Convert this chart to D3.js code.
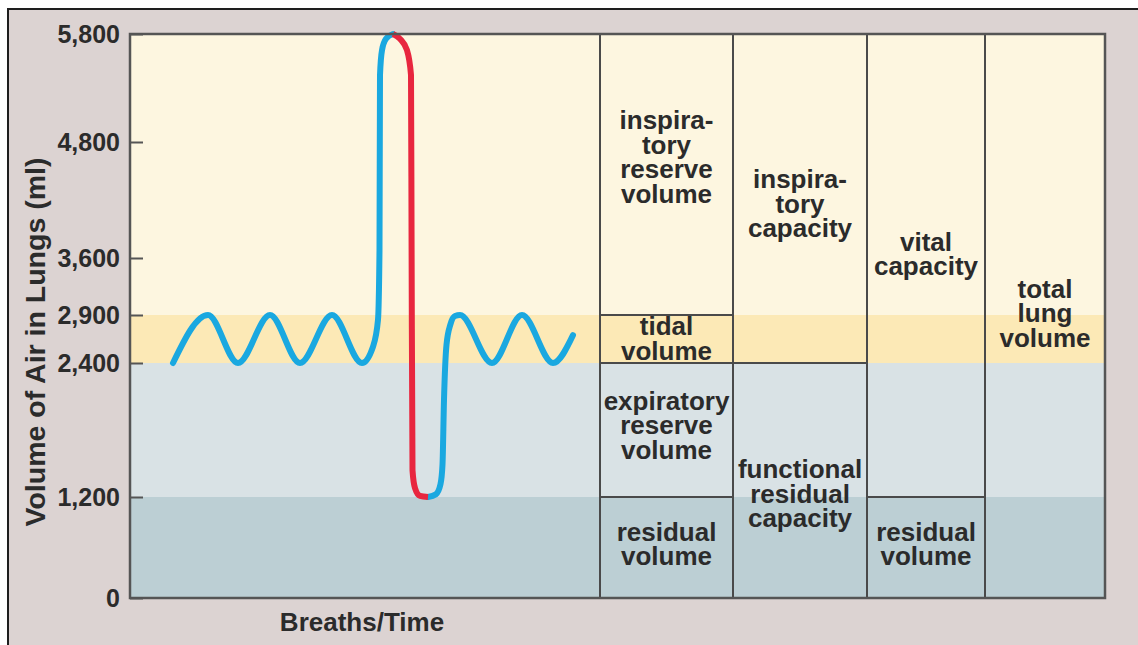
<!DOCTYPE html>
<html>
<head>
<meta charset="utf-8">
<script src="https://cdn.jsdelivr.net/npm/d3@7"></script>
<style>
  body { margin: 0; background: #fff; }
  svg text { font-family: "Liberation Sans", Arial, sans-serif; font-weight: bold; fill: #2b2b2b; }
</style>
</head>
<body>
<div id="chart"></div>
<script>
// Volume levels (ml) marked on the axis
const volumeTicks = [0, 1200, 2400, 2900, 3600, 4800, 5800];

// Horizontal bands behind the trace
const bandNames = ["residual", "expiratory", "tidal", "inspiratory"];
const bandLo = [0, 1200, 2400, 2900];
const bandHi = [1200, 2400, 2900, 5800];

// Spirometer trace [time, volume ml], split where the colour changes
const traceBefore = [
  [4.3, 2400], [7.8, 2900], [10.8, 2400], [14.0, 2900], [17.0, 2400],
  [20.2, 2900], [23.2, 2400], [24.3, 2570], [24.8, 2850], [24.95, 3680],
  [25.0, 5420], [25.2, 5650], [25.6, 5755], [26.3, 5800]
];
const traceForced = [
  [26.3, 5800], [27.0, 5755], [27.7, 5650], [28.1, 5420], [28.16, 3680],
  [28.25, 1440], [28.5, 1280], [29.0, 1210], [29.8, 1200]
];
const traceAfter = [
  [29.8, 1200], [30.6, 1225], [31.05, 1315], [31.25, 1490], [31.4, 2070],
  [31.65, 2590], [32.05, 2805], [32.5, 2890], [33.0, 2900], [36.2, 2400],
  [39.2, 2900], [42.3, 2400], [44.3, 2690]
];

// Table of volumes and capacities: column, low, high, label lines
const boxCol = [0, 0, 0, 0, 1, 1, 2, 2, 3];
const boxLo = [2900, 2400, 1200, 0, 2400, 0, 1200, 0, 0];
const boxHi = [5800, 2900, 2400, 1200, 5800, 2400, 5800, 1200, 5800];
const boxLabels = [
  ["inspira-", "tory", "reserve", "volume"],
  ["tidal", "volume"],
  ["expiratory", "reserve", "volume"],
  ["residual", "volume"],
  ["inspira-", "tory", "capacity"],
  ["functional", "residual", "capacity"],
  ["vital", "capacity"],
  ["residual", "volume"],
  ["total", "lung", "volume"]
];

// layout
const W = 1138, H = 645;
const plotL = 130, plotR = 1105, plotT = 34, plotB = 598;
const bandColor = { residual: "#bccfd4", expiratory: "#d9e2e5", tidal: "#fce9b6", inspiratory: "#fdf6e0" };
const labelShift = [-17, 0, -4, -3, 6, 14, -11, -3, -2];
const lineGap = 24.5;

const svg = d3.select("#chart").append("svg")
    .attr("width", W)
    .attr("height", H);

// schematic (non-uniform) volume axis, as in the drawing
const y = d3.scaleLinear()
    .domain(volumeTicks)
    .range([plotB, 497, 363, 315, 258, 142, plotT]);
const x = d3.scaleLinear().domain([0, 47]).range([plotL, 600]);
const col = d3.scaleLinear().domain([0, 1, 2, 3, 4]).range([600, 733, 867, 985, plotR]);

// outer panel
svg.append("rect")
    .attr("x", 8).attr("y", 9)
    .attr("width", W - 8).attr("height", H - 9)
    .attr("fill", "#dcd3d2");
svg.append("path")
    .attr("d", `M8,${H} V9 H${W}`)
    .attr("fill", "none")
    .attr("stroke", "#1e1e1e")
    .attr("stroke-width", 2);

// bands
svg.append("g")
  .selectAll("rect")
  .data(bandNames)
  .join("rect")
    .attr("x", plotL)
    .attr("width", plotR - plotL)
    .attr("y", (d, i) => y(bandHi[i]))
    .attr("height", (d, i) => y(bandLo[i]) - y(bandHi[i]))
    .attr("fill", d => bandColor[d]);

// table boxes
svg.append("g")
  .selectAll("rect")
  .data(boxLabels)
  .join("rect")
    .attr("x", (d, i) => col(boxCol[i]))
    .attr("width", (d, i) => col(boxCol[i] + 1) - col(boxCol[i]))
    .attr("y", (d, i) => y(boxHi[i]))
    .attr("height", (d, i) => y(boxLo[i]) - y(boxHi[i]))
    .attr("fill", "none")
    .attr("stroke", "#4a4a4a")
    .attr("stroke-width", 2);

// box labels
const labels = svg.append("g")
    .attr("text-anchor", "middle")
    .style("font-size", "26px");
boxLabels.forEach((lines, i) => {
  const cx = (col(boxCol[i]) + col(boxCol[i] + 1)) / 2;
  const cy = (y(boxLo[i]) + y(boxHi[i])) / 2 + labelShift[i];
  const t = labels.append("text")
      .attr("x", cx)
      .attr("y", cy - (lines.length - 1) * lineGap / 2);
  lines.forEach((s, j) => {
    t.append("tspan")
        .attr("x", cx)
        .attr("dy", j === 0 ? "0.32em" : lineGap)
        .text(s);
  });
});

// trace
const line = d3.line()
    .x(d => x(d[0]))
    .y(d => y(d[1]))
    .curve(d3.curveMonotoneX);
svg.append("path")
    .attr("d", line(traceBefore))
    .attr("fill", "none")
    .attr("stroke", "#1aa8e0")
    .attr("stroke-width", 6)
    .attr("stroke-linecap", "round");
svg.append("path")
    .attr("d", line(traceAfter))
    .attr("fill", "none")
    .attr("stroke", "#1aa8e0")
    .attr("stroke-width", 6)
    .attr("stroke-linecap", "round");
svg.append("path")
    .attr("d", line(traceForced))
    .attr("fill", "none")
    .attr("stroke", "#e8263f")
    .attr("stroke-width", 6);

// plot frame
svg.append("rect")
    .attr("x", plotL).attr("y", plotT)
    .attr("width", plotR - plotL).attr("height", plotB - plotT)
    .attr("fill", "none")
    .attr("stroke", "#555")
    .attr("stroke-width", 2.5);

// y axis with inward ticks
const yAxis = svg.append("g")
    .attr("transform", `translate(${plotL},0)`)
    .call(d3.axisLeft(y)
      .tickValues(volumeTicks)
      .tickSize(-13)
      .tickPadding(10)
      .tickFormat(d3.format(",")));
yAxis.select(".domain").remove();
yAxis.selectAll(".tick line")
    .attr("stroke", "#555")
    .attr("stroke-width", 2);
yAxis.selectAll(".tick text")
    .attr("fill", "#2b2b2b")
    .style("font-size", "25px")
    .style("font-family", "'Liberation Sans', Arial, sans-serif")
    .style("font-weight", "bold");

// axis titles
svg.append("text")
    .attr("transform", `translate(45,${(plotT + plotB) / 2 + 26}) rotate(-90)`)
    .attr("text-anchor", "middle")
    .style("font-size", "28.5px")
    .text("Volume of Air in Lungs (ml)");
svg.append("text")
    .attr("x", 362)
    .attr("y", 631)
    .attr("text-anchor", "middle")
    .style("font-size", "26px")
    .text("Breaths/Time");
</script>
</body>
</html>
